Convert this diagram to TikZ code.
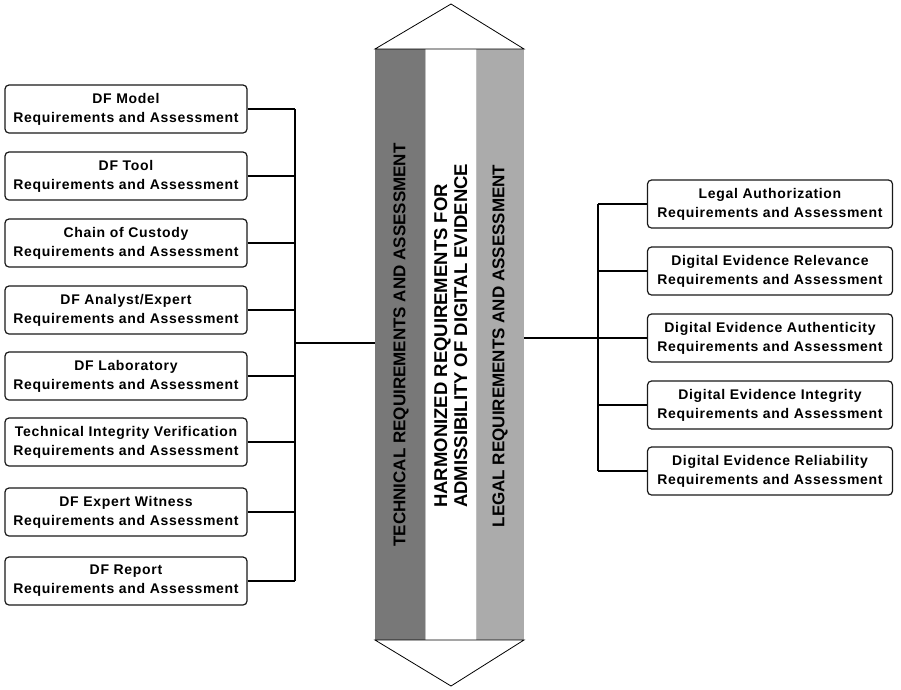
\documentclass[tikz,border=0pt]{standalone}
\usepackage{fontspec}
\setmainfont{Liberation Sans}
\newfontfamily\boxfont[LetterSpace=5]{Liberation Sans}
\newfontfamily\bandfont{Liberation Sans}
\begin{document}
\begin{tikzpicture}[x=1pt,y=-1pt,
  reqbox/.style={draw=black!90, line width=1.2pt, rounded corners=4pt, fill=white,
    minimum height=48pt, align=center, inner sep=0pt,
    font=\boxfont\bfseries\fontsize{14}{19}\selectfont},
  lbox/.style={reqbox, minimum width=242pt},
  rbox/.style={reqbox, minimum width=245pt},
  wire/.style={line width=1.2pt, black},
  bandtxt/.style={rotate=90, font=\bandfont\bfseries\fontsize{17}{21}\selectfont, inner sep=0pt}]
\useasboundingbox (0,0) rectangle (901,689);
% central column
\fill[black!53] (375,49) rectangle (425,640);
\fill[white] (425,49) rectangle (476,640);
\fill[black!33] (476,49) rectangle (524,640);
\draw[black!25, line width=0.8pt] (425.5,49) -- (425.5,640) (476,49) -- (476,640);
\draw[line width=0.8pt] (375,49) -- (451,4) -- (524,49) -- cycle;
\draw[line width=0.8pt] (375,640) -- (451,686) -- (524,640) -- cycle;
\coordinate (colL) at (375,343);
\coordinate (colR) at (524,338);
\node[bandtxt] (tech) at (401,345) {TECHNICAL REQUIREMENTS AND ASSESSMENT};
\node[bandtxt, font=\bandfont\bfseries\fontsize{18.5}{20}\selectfont, align=left, anchor=north west] (harm) at (434,508) {HARMONIZED REQUIREMENTS FOR\\ADMISSIBILITY OF DIGITAL EVIDENCE};
\node[bandtxt] (legal) at (500,346) {LEGAL REQUIREMENTS AND ASSESSMENT};
% left boxes
\node[lbox] (l1) at (126,109) {DF Model\\Requirements and Assessment};
\node[lbox] (l2) at (126,176) {DF Tool\\Requirements and Assessment};
\node[lbox] (l3) at (126,243) {Chain of Custody\\Requirements and Assessment};
\node[lbox] (l4) at (126,310) {DF Analyst/Expert\\Requirements and Assessment};
\node[lbox] (l5) at (126,376) {DF Laboratory\\Requirements and Assessment};
\node[lbox] (l6) at (126,442) {Technical Integrity Verification\\Requirements and Assessment};
\node[lbox] (l7) at (126,512) {DF Expert Witness\\Requirements and Assessment};
\node[lbox] (l8) at (126,581) {DF Report\\Requirements and Assessment};
% right boxes
\node[rbox] (r1) at (770,204) {Legal Authorization\\Requirements and Assessment};
\node[rbox] (r2) at (770,271) {Digital Evidence Relevance\\Requirements and Assessment};
\node[rbox] (r3) at (770,338) {Digital Evidence Authenticity\\Requirements and Assessment};
\node[rbox] (r4) at (770,405) {Digital Evidence Integrity\\Requirements and Assessment};
\node[rbox] (r5) at (770,471) {Digital Evidence Reliability\\Requirements and Assessment};
% left bus
\coordinate (lb1) at (295,109);
\coordinate (lb8) at (295,581);
\coordinate (lbm) at (295,343);
\draw[wire] (lb1) -- (lb8);
\foreach \i in {1,...,8} \draw[wire] (l\i.east) -- (l\i.east -| lbm);
\draw[wire] (lbm) -- (colL);
% right bus
\coordinate (rb1) at (598,204);
\coordinate (rb5) at (598,471);
\coordinate (rbm) at (598,338);
\draw[wire] (rb1) -- (rb5);
\foreach \i in {1,...,5} \draw[wire] (r\i.west) -- (r\i.west -| rbm);
\draw[wire] (colR) -- (rbm);
\end{tikzpicture}
\end{document}
